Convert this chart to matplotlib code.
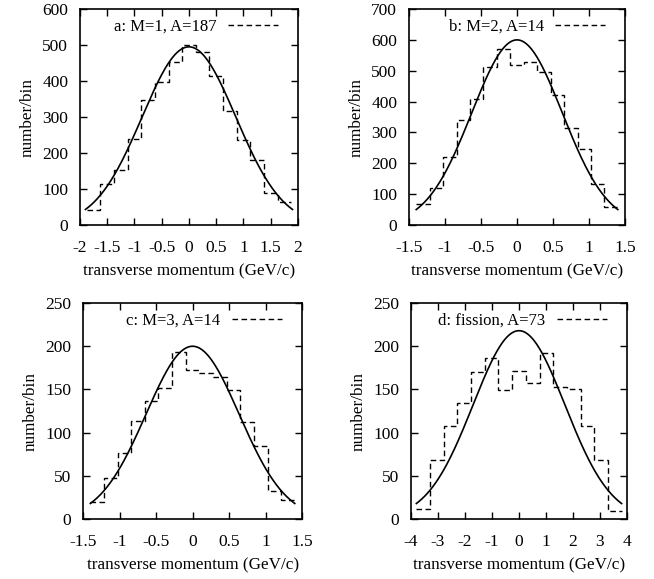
import numpy as np
import matplotlib.pyplot as plt
from matplotlib.ticker import FuncFormatter

plt.rcParams['font.family'] = ['Liberation Serif', 'DejaVu Serif']
plt.rcParams['axes.unicode_minus'] = False
plt.rcParams['font.size'] = 12

# --- DATA ---
labels = ['a: M=1, A=187', 'b: M=2, A=14', 'c: M=3, A=14', 'd: fission, A=73']

edges_a = np.linspace(-1.875, 1.875, 16)
counts_a = [43, 115, 152, 238, 348, 398, 452, 500, 480, 415, 318, 235, 180, 90, 63]

edges_b = np.linspace(-1.4, 1.4, 16)
counts_b = [68, 121, 221, 340, 410, 513, 572, 518, 529, 497, 421, 313, 245, 133, 57]

edges_c = np.linspace(-1.4, 1.4, 16)
counts_c = [20, 47, 76, 113, 137, 152, 193, 172, 169, 164, 149, 112, 85, 33, 22]

edges_d = np.linspace(-3.8, 3.8, 16)
counts_d = [12, 68, 108, 134, 170, 186, 149, 171, 158, 192, 153, 150, 108, 68, 9]

# gaussian fit parameters: peak height, sigma, plotted range
fit_peak = [495, 600, 200, 218]
fit_sigma = [0.86, 0.628, 0.638, 1.70]
fit_range = [1.9, 1.4, 1.4, 3.8]

xlims = [(-2, 2), (-1.5, 1.5), (-1.5, 1.5), (-4, 4)]
xsteps = [0.5, 0.5, 0.5, 1]
ylims = [600, 700, 250, 250]
ysteps = [100, 100, 50, 50]

# axes boxes in figure fraction
boxes = [
    [0.1223, 0.6114, 0.3333, 0.373],
    [0.6254, 0.6114, 0.3303, 0.373],
    [0.1270, 0.1036, 0.3349, 0.373],
    [0.6284, 0.1036, 0.3303, 0.373],
]

edges_all = [edges_a, edges_b, edges_c, edges_d]
counts_all = [counts_a, counts_b, counts_c, counts_d]

fig = plt.figure(figsize=(6.54, 5.79), dpi=100)
fmt = FuncFormatter(lambda v, p: '%g' % round(v, 6))

for i in range(4):
    ax = fig.add_axes(boxes[i])
    ax.stairs(counts_all[i], edges_all[i], baseline=None, color='black',
              lw=1.0, linestyle=(0, (4, 2.5)), label=labels[i])
    xs = np.linspace(-fit_range[i], fit_range[i], 300)
    ax.plot(xs, fit_peak[i] * np.exp(-xs**2 / (2 * fit_sigma[i]**2)),
            color='black', lw=1.2)

    ax.set_xlim(*xlims[i])
    ax.set_ylim(0, ylims[i])
    ax.set_xticks(np.arange(xlims[i][0], xlims[i][1] + 1e-9, xsteps[i]))
    ax.set_yticks(np.arange(0, ylims[i] + 1e-9, ysteps[i]))
    ax.xaxis.set_major_formatter(fmt)
    ax.yaxis.set_major_formatter(fmt)
    ax.tick_params(direction='in', top=True, right=True, length=5,
                   width=1, labelsize=12.5)
    ax.tick_params(axis='x', pad=11)
    ax.tick_params(axis='y', pad=8.5)
    for s in ax.spines.values():
        s.set_linewidth(1.2)

    ax.set_xlabel('transverse momentum (GeV/c)', fontsize=12.3, labelpad=5)
    ax.set_ylabel('number/bin', fontsize=12.3, labelpad=5)
    ax.legend(loc='upper right', bbox_to_anchor=(0.955, 1.0), frameon=False,
              markerfirst=False, handlelength=3.0, borderaxespad=0.2,
              fontsize=12, handletextpad=0.7)

fig.savefig('out.png', dpi=100)
